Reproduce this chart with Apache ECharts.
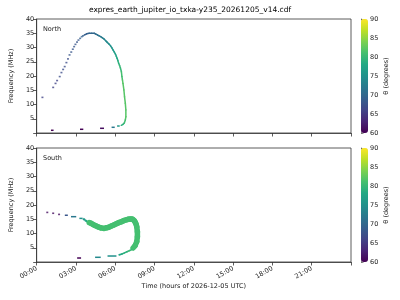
<!DOCTYPE html>
<html>
<head>
<meta charset="utf-8">
<script src="https://cdn.jsdelivr.net/npm/echarts@6/dist/echarts.min.js"></script>
<style>html,body{margin:0;padding:0;background:#fff}#c{width:400px;height:300px}</style>
</head>
<body>
<div id="c"></div>
<script>
// ---------- data (time in hours of 2026-12-05 UTC, frequency in MHz, theta in degrees) ----------
var titleText = 'expres_earth_jupiter_io_txka-y235_20261205_v14.cdf';
var hourTicks = [0, 3, 6, 9, 12, 15, 18, 21];
var freqTicks = [5, 10, 15, 20, 25, 30, 35, 40];
var thetaTicks = [60, 65, 70, 75, 80, 85, 90];

// North: isolated dots
var northDotTime  = [0.44, 1.26, 1.44, 1.56, 1.76, 1.89, 2.02, 2.14, 2.27, 2.39, 2.51, 2.64, 2.76, 2.86, 2.96, 3.08, 3.19, 3.32, 3.44, 3.54];
var northDotFreq  = [12.5, 16.0, 17.4, 18.4, 19.8, 21.2, 22.3, 23.3, 24.7, 26.0, 27.4, 28.4, 29.4, 30.3, 31.1, 31.9, 32.6, 33.2, 33.8, 34.1];
var northDotTheta = [66, 66, 66, 66, 67, 67, 67, 67, 67, 67, 68, 68, 68, 68, 68, 68, 68, 69, 69, 69];
// North: continuous arc
var northArcTime  = [3.64, 3.82, 4.01, 4.2, 4.39, 4.52, 4.64, 4.77, 4.89, 5.02, 5.14, 5.27, 5.39, 5.52, 5.64, 5.74, 5.84, 5.93, 6.02, 6.08, 6.14, 6.2, 6.26, 6.33, 6.39, 6.47, 6.51, 6.55, 6.59, 6.66, 6.71, 6.77, 6.81, 6.81, 6.77, 6.69, 6.58, 6.46];
var northArcFreq  = [34.4, 34.8, 35.0, 35.0, 35.0, 34.7, 34.4, 34.1, 33.8, 33.4, 33.0, 32.4, 31.8, 31.2, 30.6, 29.9, 29.1, 28.4, 27.6, 26.9, 26.2, 25.4, 24.5, 23.7, 22.9, 21.5, 19.8, 18.6, 17.4, 15.1, 12.7, 10.4, 8.1, 5.7, 4.6, 3.5, 3.0, 2.7];
var northArcTheta = [69, 69, 70, 70, 70, 71, 71, 72, 72, 73, 73, 74, 74, 75, 75, 76, 76, 77, 77, 78, 78, 79, 79, 80, 80, 81, 81, 82, 82, 82, 82, 82, 82, 82, 81, 80, 79, 78];
// North: short dashes [start, end]
var northDashStart = [1.09, 3.31, 4.84, 5.72, 6.14];
var northDashEnd   = [1.29, 3.56, 5.14, 5.96, 6.34];
var northDashFreq  = [0.95, 1.3, 1.65, 2.0, 2.45];
var northDashTheta = [60, 60, 61, 72, 76];

// South: isolated dots
var southDotTime  = [0.81, 1.26, 1.71];
var southDotFreq  = [17.4, 17.1, 16.7];
var southDotTheta = [61, 61, 61];
// South: thin lead-in to the band
var southLeadTime  = [3.55, 3.69, 3.89, 4.02];
var southLeadFreq  = [15.2, 14.7, 14.1, 13.8];
var southLeadTheta = [76, 78, 80, 81];
// South: thick band
var southBandTime  = [4.02, 4.14, 4.33, 4.51, 4.7, 4.89, 5.14, 5.33, 5.51, 5.7, 5.89, 6.08, 6.26, 6.45, 6.64, 6.83, 7.01, 7.16, 7.31, 7.43, 7.51, 7.59, 7.64, 7.69, 7.69, 7.64, 7.51, 7.36];
var southBandFreq  = [13.8, 13.6, 13.1, 12.7, 12.3, 12.0, 11.8, 12.0, 12.2, 12.6, 13.0, 13.4, 13.8, 14.1, 14.5, 14.8, 15.0, 15.1, 15.0, 14.6, 14.1, 13.3, 12.4, 10.6, 8.9, 7.1, 5.7, 4.9];
var southBandTheta = [81, 81, 81, 81, 81, 81, 81, 81, 81, 81, 81, 81, 81, 81, 81, 81, 81, 81, 81, 81, 81, 81, 81, 81, 81, 81, 81, 81];
// South: thin tail
var southTailTime  = [7.36, 7.26, 7.1, 6.89, 6.7, 6.51, 6.3];
var southTailFreq  = [4.9, 4.4, 4.0, 3.6, 3.2, 2.8, 2.5];
var southTailTheta = [81, 80, 80, 79, 79, 78, 77];
// South: short dashes
var southDashStart = [2.15, 2.62, 3.26, 3.09, 4.46, 5.41];
var southDashEnd   = [2.38, 3.02, 3.51, 3.39, 4.89, 6.09];
var southDashFreq  = [16.4, 15.9, 15.3, 1.4, 1.65, 2.1];
var southDashTheta = [68, 72, 75, 60, 74, 75];

var viridis = ['#440154', '#482475', '#414487', '#355f8d', '#2a788e', '#21918c', '#22a884', '#44bf70', '#7ad151', '#bddf26', '#fde725'];

// ---------- helpers ----------
function pts(t, f, th) { return t.map(function (v, i) { return [v, f[i], th[i]]; }); }
function dashes(s, e, f, th) { return s.map(function (v, i) { return [v, f[i], th[i], e[i]]; }); }
function pathRender(t, f, width, cap) {
  return function (params, api) {
    var i = params.dataIndex;
    if (i >= t.length - 1) return null;
    var p0 = api.coord([api.value(0), api.value(1)]);
    var p1 = api.coord([t[i + 1], f[i + 1]]);
    return { type: 'line', shape: { x1: p0[0], y1: p0[1], x2: p1[0], y2: p1[1] },
      style: { stroke: api.visual('color'), lineWidth: width, lineCap: cap || 'round' } };
  };
}
function dashRender(params, api) {
  var p0 = api.coord([api.value(0), api.value(1)]);
  var p1 = api.coord([api.value(3), api.value(1)]);
  return { type: 'line', shape: { x1: p0[0], y1: p0[1], x2: p1[0], y2: p1[1] },
    style: { stroke: api.visual('color'), lineWidth: 1.5, lineCap: 'butt' } };
}
function pad(h) { return (h < 10 ? '0' : '') + h + ':00'; }

var FONT = 'DejaVu Sans';
var TXT = '#222';
var AX = '#333';

function timeAxis(gi, labels) {
  return {
    gridIndex: gi, type: 'value', min: 0, max: 24, interval: 3,
    axisLine: { show: true, onZero: false, lineStyle: { color: AX, width: 0.8 } },
    axisTick: { show: true, length: 3.5, lineStyle: { color: AX, width: 0.8 } },
    splitLine: { show: false },
    axisLabel: labels ? {
      show: true, rotate: 30, fontSize: 6.5, fontFamily: FONT, color: TXT, margin: 6,
      formatter: function (v) { return hourTicks.indexOf(v) >= 0 ? pad(v) : ''; }
    } : { show: false },
    name: labels ? 'Time (hours of 2026-12-05 UTC)' : '',
    nameLocation: 'middle', nameGap: 21,
    nameTextStyle: { fontSize: 6.5, fontFamily: FONT, color: TXT }
  };
}
function freqAxis(gi) {
  return {
    gridIndex: gi, type: 'value', min: 0, max: 40, interval: 5,
    axisLine: { show: true, lineStyle: { color: AX, width: 0.8 } },
    axisTick: { show: true, length: 3.5, lineStyle: { color: AX, width: 0.8 } },
    splitLine: { show: false },
    axisLabel: { fontSize: 6.5, fontFamily: FONT, color: TXT, margin: 2.5,
      formatter: function (v) { return freqTicks.indexOf(v) >= 0 ? String(v) : ''; } },
    name: 'Frequency (MHz)', nameLocation: 'middle', nameGap: 16,
    nameTextStyle: { fontSize: 6.5, fontFamily: FONT, color: TXT }
  };
}
function cbAxis(gi) {
  return {
    gridIndex: gi, type: 'value', position: 'right', min: 60, max: 90, interval: 5,
    axisLine: { show: true, lineStyle: { color: AX, width: 0.6 } },
    axisTick: { show: true, length: 2.5, lineStyle: { color: AX, width: 0.6 } },
    splitLine: { show: false },
    axisLabel: { fontSize: 6.5, fontFamily: FONT, color: TXT, margin: 2,
      formatter: function (v) { return thetaTicks.indexOf(v) >= 0 ? String(v) : ''; } },
    name: 'θ (degrees)', nameLocation: 'middle', nameGap: 15, nameRotate: 90,
    nameTextStyle: { fontSize: 6.5, fontFamily: FONT, color: TXT }
  };
}

var chart = echarts.init(document.getElementById('c'), null, { renderer: 'canvas' });
var option = {
  animation: false,
  backgroundColor: '#fff',
  grid: [
    { left: 31, top: 19, width: 320, height: 114, show: true, borderColor: AX, borderWidth: 0.8, backgroundColor: 'transparent' },
    { left: 31, top: 148, width: 320, height: 114, show: true, borderColor: AX, borderWidth: 0.8, backgroundColor: 'transparent' },
    { left: 361, top: 19, width: 7, height: 114, show: false },
    { left: 361, top: 148, width: 7, height: 114, show: false }
  ],
  xAxis: [timeAxis(0, false), timeAxis(1, true),
    { gridIndex: 2, type: 'value', show: false, min: 0, max: 1 },
    { gridIndex: 3, type: 'value', show: false, min: 0, max: 1 }],
  yAxis: [freqAxis(0), freqAxis(1), cbAxis(2), cbAxis(3)],
  visualMap: [
    { type: 'continuous', seriesIndex: [0, 1, 2], dimension: 2, min: 60, max: 90,
      inRange: { color: viridis }, show: true, calculable: false, hoverLink: false,
      left: 361, top: 19, itemWidth: 7, itemHeight: 114, padding: 0, text: null, showLabel: false },
    { type: 'continuous', seriesIndex: [3, 4, 5, 6, 7], dimension: 2, min: 60, max: 90,
      inRange: { color: viridis }, show: true, calculable: false, hoverLink: false,
      left: 361, top: 148, itemWidth: 7, itemHeight: 114, padding: 0, text: null, showLabel: false }
  ],
  series: [
    { type: 'scatter', xAxisIndex: 0, yAxisIndex: 0, symbol: 'rect', symbolSize: [2, 1.6],
      data: pts(northDotTime, northDotFreq, northDotTheta), silent: true },
    { type: 'custom', xAxisIndex: 0, yAxisIndex: 0, clip: true, silent: true,
      encode: { x: 0, y: 1 }, renderItem: pathRender(northArcTime, northArcFreq, 1.5),
      data: pts(northArcTime, northArcFreq, northArcTheta) },
    { type: 'custom', xAxisIndex: 0, yAxisIndex: 0, clip: true, silent: true,
      encode: { x: 0, y: 1 }, renderItem: dashRender,
      data: dashes(northDashStart, northDashEnd, northDashFreq, northDashTheta) },
    { type: 'scatter', xAxisIndex: 1, yAxisIndex: 1, symbol: 'rect', symbolSize: [2, 1.6],
      data: pts(southDotTime, southDotFreq, southDotTheta), silent: true },
    { type: 'custom', xAxisIndex: 1, yAxisIndex: 1, clip: true, silent: true,
      encode: { x: 0, y: 1 }, renderItem: pathRender(southLeadTime, southLeadFreq, 2.2, 'butt'),
      data: pts(southLeadTime, southLeadFreq, southLeadTheta) },
    { type: 'custom', xAxisIndex: 1, yAxisIndex: 1, clip: true, silent: true,
      encode: { x: 0, y: 1 }, renderItem: pathRender(southBandTime, southBandFreq, 5.5),
      data: pts(southBandTime, southBandFreq, southBandTheta) },
    { type: 'custom', xAxisIndex: 1, yAxisIndex: 1, clip: true, silent: true,
      encode: { x: 0, y: 1 }, renderItem: pathRender(southTailTime, southTailFreq, 1.6),
      data: pts(southTailTime, southTailFreq, southTailTheta) },
    { type: 'custom', xAxisIndex: 1, yAxisIndex: 1, clip: true, silent: true,
      encode: { x: 0, y: 1 }, renderItem: dashRender,
      data: dashes(southDashStart, southDashEnd, southDashFreq, southDashTheta) }
  ],
  graphic: [
    { type: 'text', x: 190, y: 10, style: { text: titleText, fontSize: 7.5, fontFamily: FONT, fill: '#000', align: 'center', verticalAlign: 'middle' }, silent: true },
    { type: 'text', left: 43, top: 26, style: { text: 'North', fontSize: 6.5, fontFamily: FONT, fill: TXT }, silent: true },
    { type: 'text', left: 43, top: 155, style: { text: 'South', fontSize: 6.5, fontFamily: FONT, fill: TXT }, silent: true }
  ]
};
chart.setOption(option);
</script>
</body>
</html>
